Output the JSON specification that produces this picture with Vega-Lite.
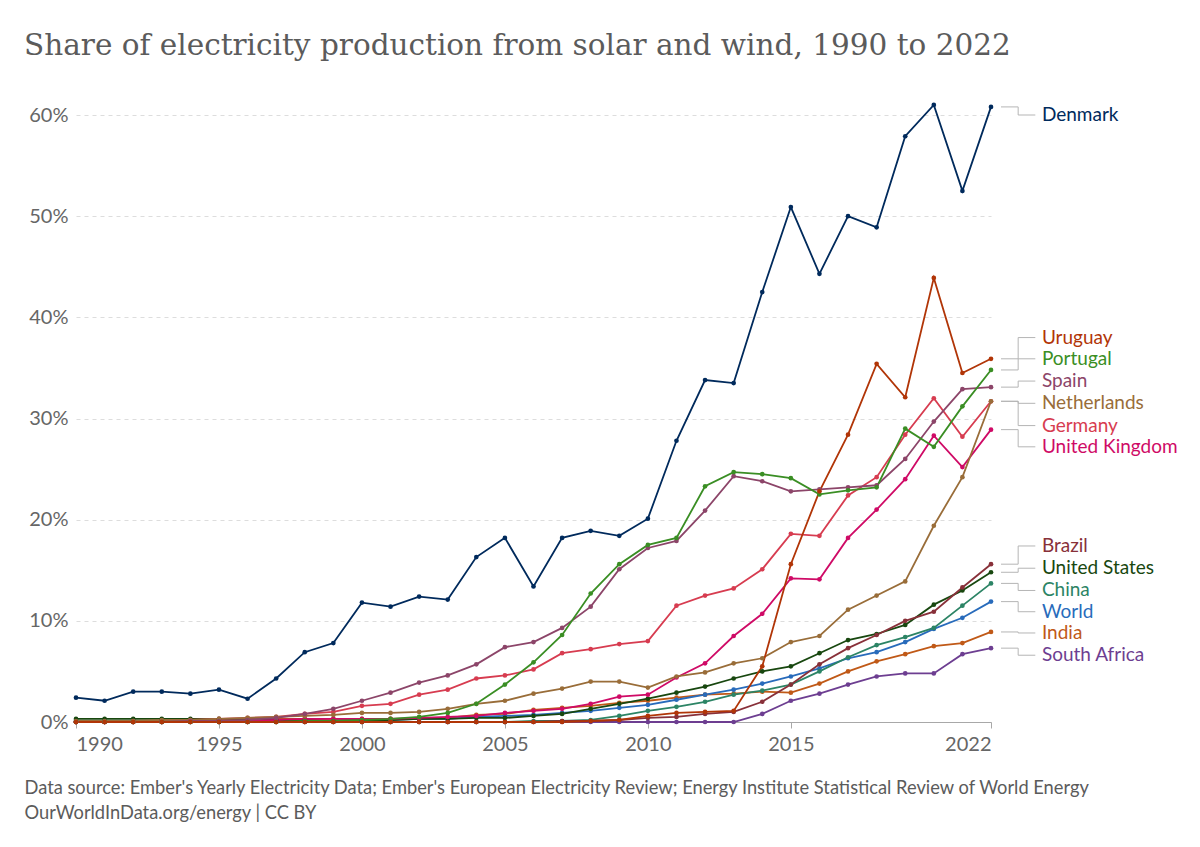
{
  "$schema": "https://vega.github.io/schema/vega-lite/v6.json",
  "width": 915,
  "height": 607,
  "padding": {"left": 24, "top": 30, "right": 10, "bottom": 10},
  "background": "white",
  "title": {
    "text": "Share of electricity production from solar and wind, 1990 to 2022",
    "anchor": "start",
    "frame": "group",
    "dx": -52,
    "font": "DejaVu Serif",
    "fontSize": 29.5,
    "fontWeight": "normal",
    "color": "#5b5b5b",
    "offset": 40
  },
  "datasets": {
    "series": [
      {"year": 1990, "Denmark": 2.4, "Uruguay": 0.0, "Portugal": 0.0, "Spain": 0.0, "Netherlands": 0.1, "Germany": 0.0, "United Kingdom": 0.0, "Brazil": 0.0, "United States": 0.3, "China": 0.0, "World": 0.1, "India": 0.0, "South Africa": 0.0},
      {"year": 1991, "Denmark": 2.1, "Uruguay": 0.0, "Portugal": 0.0, "Spain": 0.0, "Netherlands": 0.1, "Germany": 0.0, "United Kingdom": 0.0, "Brazil": 0.0, "United States": 0.3, "China": 0.0, "World": 0.1, "India": 0.0, "South Africa": 0.0},
      {"year": 1992, "Denmark": 3.0, "Uruguay": 0.0, "Portugal": 0.0, "Spain": 0.0, "Netherlands": 0.1, "Germany": 0.1, "United Kingdom": 0.0, "Brazil": 0.0, "United States": 0.3, "China": 0.0, "World": 0.1, "India": 0.0, "South Africa": 0.0},
      {"year": 1993, "Denmark": 3.0, "Uruguay": 0.0, "Portugal": 0.0, "Spain": 0.0, "Netherlands": 0.2, "Germany": 0.1, "United Kingdom": 0.1, "Brazil": 0.0, "United States": 0.3, "China": 0.0, "World": 0.1, "India": 0.0, "South Africa": 0.0},
      {"year": 1994, "Denmark": 2.8, "Uruguay": 0.0, "Portugal": 0.0, "Spain": 0.1, "Netherlands": 0.2, "Germany": 0.2, "United Kingdom": 0.1, "Brazil": 0.0, "United States": 0.3, "China": 0.0, "World": 0.1, "India": 0.1, "South Africa": 0.0},
      {"year": 1995, "Denmark": 3.2, "Uruguay": 0.0, "Portugal": 0.0, "Spain": 0.1, "Netherlands": 0.3, "Germany": 0.3, "United Kingdom": 0.1, "Brazil": 0.0, "United States": 0.3, "China": 0.0, "World": 0.1, "India": 0.2, "South Africa": 0.0},
      {"year": 1996, "Denmark": 2.3, "Uruguay": 0.0, "Portugal": 0.0, "Spain": 0.2, "Netherlands": 0.4, "Germany": 0.4, "United Kingdom": 0.1, "Brazil": 0.0, "United States": 0.3, "China": 0.0, "World": 0.1, "India": 0.2, "South Africa": 0.0},
      {"year": 1997, "Denmark": 4.3, "Uruguay": 0.0, "Portugal": 0.0, "Spain": 0.4, "Netherlands": 0.5, "Germany": 0.5, "United Kingdom": 0.2, "Brazil": 0.0, "United States": 0.2, "China": 0.0, "World": 0.1, "India": 0.3, "South Africa": 0.0},
      {"year": 1998, "Denmark": 6.9, "Uruguay": 0.0, "Portugal": 0.1, "Spain": 0.8, "Netherlands": 0.6, "Germany": 0.8, "United Kingdom": 0.3, "Brazil": 0.0, "United States": 0.2, "China": 0.0, "World": 0.1, "India": 0.3, "South Africa": 0.0},
      {"year": 1999, "Denmark": 7.8, "Uruguay": 0.0, "Portugal": 0.1, "Spain": 1.3, "Netherlands": 0.7, "Germany": 1.0, "United Kingdom": 0.3, "Brazil": 0.0, "United States": 0.1, "China": 0.0, "World": 0.1, "India": 0.3, "South Africa": 0.0},
      {"year": 2000, "Denmark": 11.8, "Uruguay": 0.0, "Portugal": 0.2, "Spain": 2.1, "Netherlands": 0.9, "Germany": 1.6, "United Kingdom": 0.3, "Brazil": 0.0, "United States": 0.2, "China": 0.0, "World": 0.2, "India": 0.3, "South Africa": 0.0},
      {"year": 2001, "Denmark": 11.4, "Uruguay": 0.0, "Portugal": 0.3, "Spain": 2.9, "Netherlands": 0.9, "Germany": 1.8, "United Kingdom": 0.3, "Brazil": 0.0, "United States": 0.2, "China": 0.0, "World": 0.2, "India": 0.3, "South Africa": 0.0},
      {"year": 2002, "Denmark": 12.4, "Uruguay": 0.0, "Portugal": 0.5, "Spain": 3.9, "Netherlands": 1.0, "Germany": 2.7, "United Kingdom": 0.4, "Brazil": 0.0, "United States": 0.3, "China": 0.0, "World": 0.3, "India": 0.3, "South Africa": 0.0},
      {"year": 2003, "Denmark": 12.1, "Uruguay": 0.0, "Portugal": 0.9, "Spain": 4.6, "Netherlands": 1.3, "Germany": 3.2, "United Kingdom": 0.5, "Brazil": 0.0, "United States": 0.3, "China": 0.0, "World": 0.3, "India": 0.4, "South Africa": 0.0},
      {"year": 2004, "Denmark": 16.3, "Uruguay": 0.0, "Portugal": 1.8, "Spain": 5.7, "Netherlands": 1.8, "Germany": 4.3, "United Kingdom": 0.6, "Brazil": 0.0, "United States": 0.4, "China": 0.0, "World": 0.5, "India": 0.7, "South Africa": 0.0},
      {"year": 2005, "Denmark": 18.2, "Uruguay": 0.0, "Portugal": 3.7, "Spain": 7.4, "Netherlands": 2.1, "Germany": 4.6, "United Kingdom": 0.9, "Brazil": 0.0, "United States": 0.4, "China": 0.0, "World": 0.6, "India": 0.8, "South Africa": 0.0},
      {"year": 2006, "Denmark": 13.4, "Uruguay": 0.0, "Portugal": 5.9, "Spain": 7.9, "Netherlands": 2.8, "Germany": 5.2, "United Kingdom": 1.1, "Brazil": 0.0, "United States": 0.6, "China": 0.1, "World": 0.7, "India": 1.2, "South Africa": 0.0},
      {"year": 2007, "Denmark": 18.2, "Uruguay": 0.0, "Portugal": 8.6, "Spain": 9.3, "Netherlands": 3.3, "Germany": 6.8, "United Kingdom": 1.3, "Brazil": 0.1, "United States": 0.8, "China": 0.1, "World": 0.9, "India": 1.4, "South Africa": 0.0},
      {"year": 2008, "Denmark": 18.9, "Uruguay": 0.1, "Portugal": 12.7, "Spain": 11.4, "Netherlands": 4.0, "Germany": 7.2, "United Kingdom": 1.8, "Brazil": 0.1, "United States": 1.3, "China": 0.2, "World": 1.1, "India": 1.6, "South Africa": 0.0},
      {"year": 2009, "Denmark": 18.4, "Uruguay": 0.2, "Portugal": 15.6, "Spain": 15.1, "Netherlands": 4.0, "Germany": 7.7, "United Kingdom": 2.5, "Brazil": 0.2, "United States": 1.8, "China": 0.6, "World": 1.4, "India": 1.9, "South Africa": 0.0},
      {"year": 2010, "Denmark": 20.1, "Uruguay": 0.6, "Portugal": 17.5, "Spain": 17.2, "Netherlands": 3.4, "Germany": 8.0, "United Kingdom": 2.7, "Brazil": 0.4, "United States": 2.3, "China": 1.1, "World": 1.7, "India": 2.1, "South Africa": 0.0},
      {"year": 2011, "Denmark": 27.8, "Uruguay": 0.9, "Portugal": 18.2, "Spain": 17.9, "Netherlands": 4.5, "Germany": 11.5, "United Kingdom": 4.4, "Brazil": 0.5, "United States": 2.9, "China": 1.5, "World": 2.2, "India": 2.4, "South Africa": 0.0},
      {"year": 2012, "Denmark": 33.8, "Uruguay": 1.0, "Portugal": 23.3, "Spain": 20.9, "Netherlands": 4.9, "Germany": 12.5, "United Kingdom": 5.8, "Brazil": 0.8, "United States": 3.5, "China": 2.0, "World": 2.7, "India": 2.7, "South Africa": 0.0},
      {"year": 2013, "Denmark": 33.5, "Uruguay": 1.1, "Portugal": 24.7, "Spain": 24.3, "Netherlands": 5.8, "Germany": 13.2, "United Kingdom": 8.5, "Brazil": 1.0, "United States": 4.3, "China": 2.7, "World": 3.2, "India": 2.8, "South Africa": 0.0},
      {"year": 2014, "Denmark": 42.5, "Uruguay": 5.5, "Portugal": 24.5, "Spain": 23.8, "Netherlands": 6.3, "Germany": 15.1, "United Kingdom": 10.7, "Brazil": 2.0, "United States": 5.0, "China": 3.1, "World": 3.8, "India": 3.0, "South Africa": 0.8},
      {"year": 2015, "Denmark": 50.9, "Uruguay": 15.6, "Portugal": 24.1, "Spain": 22.8, "Netherlands": 7.9, "Germany": 18.6, "United Kingdom": 14.2, "Brazil": 3.7, "United States": 5.5, "China": 3.7, "World": 4.5, "India": 2.9, "South Africa": 2.1},
      {"year": 2016, "Denmark": 44.3, "Uruguay": 22.8, "Portugal": 22.5, "Spain": 23.0, "Netherlands": 8.5, "Germany": 18.4, "United Kingdom": 14.1, "Brazil": 5.7, "United States": 6.8, "China": 5.0, "World": 5.3, "India": 3.8, "South Africa": 2.8},
      {"year": 2017, "Denmark": 50.0, "Uruguay": 28.4, "Portugal": 22.9, "Spain": 23.2, "Netherlands": 11.1, "Germany": 22.4, "United Kingdom": 18.2, "Brazil": 7.3, "United States": 8.1, "China": 6.4, "World": 6.3, "India": 5.0, "South Africa": 3.7},
      {"year": 2018, "Denmark": 48.9, "Uruguay": 35.4, "Portugal": 23.2, "Spain": 23.4, "Netherlands": 12.5, "Germany": 24.2, "United Kingdom": 21.0, "Brazil": 8.6, "United States": 8.7, "China": 7.6, "World": 6.9, "India": 6.0, "South Africa": 4.5},
      {"year": 2019, "Denmark": 57.9, "Uruguay": 32.1, "Portugal": 29.0, "Spain": 26.0, "Netherlands": 13.9, "Germany": 28.4, "United Kingdom": 24.0, "Brazil": 10.0, "United States": 9.6, "China": 8.4, "World": 7.9, "India": 6.7, "South Africa": 4.8},
      {"year": 2020, "Denmark": 61.0, "Uruguay": 43.9, "Portugal": 27.2, "Spain": 29.7, "Netherlands": 19.4, "Germany": 32.0, "United Kingdom": 28.3, "Brazil": 10.9, "United States": 11.6, "China": 9.3, "World": 9.2, "India": 7.5, "South Africa": 4.8},
      {"year": 2021, "Denmark": 52.5, "Uruguay": 34.5, "Portugal": 31.2, "Spain": 32.9, "Netherlands": 24.2, "Germany": 28.2, "United Kingdom": 25.2, "Brazil": 13.3, "United States": 13.0, "China": 11.5, "World": 10.3, "India": 7.8, "South Africa": 6.7},
      {"year": 2022, "Denmark": 60.8, "Uruguay": 35.9, "Portugal": 34.8, "Spain": 33.1, "Netherlands": 31.7, "Germany": 31.7, "United Kingdom": 28.9, "Brazil": 15.6, "United States": 14.8, "China": 13.7, "World": 11.9, "India": 8.9, "South Africa": 7.3}
    ],
    "labels": [
      {"country": "Denmark", "labelPos": 60.0},
      {"country": "Uruguay", "labelPos": 38.0},
      {"country": "Portugal", "labelPos": 35.9},
      {"country": "Spain", "labelPos": 33.7},
      {"country": "Netherlands", "labelPos": 31.5},
      {"country": "Germany", "labelPos": 29.3},
      {"country": "United Kingdom", "labelPos": 27.2},
      {"country": "Brazil", "labelPos": 17.4},
      {"country": "United States", "labelPos": 15.2},
      {"country": "China", "labelPos": 13.0},
      {"country": "World", "labelPos": 10.9},
      {"country": "India", "labelPos": 8.8},
      {"country": "South Africa", "labelPos": 6.6}
    ]
  },
  "layer": [
    {
      "data": {"name": "series"},
      "transform": [
        {"fold": ["South Africa", "India", "World", "China", "United States", "Brazil", "United Kingdom", "Germany", "Netherlands", "Spain", "Portugal", "Uruguay", "Denmark"], "as": ["country", "value"]}
      ],
      "mark": {"type": "line", "strokeWidth": 1.8, "point": {"filled": true, "size": 22}},
      "encoding": {
        "x": {
          "field": "year",
          "type": "quantitative",
          "scale": {"domain": [1990, 2022], "nice": false, "zero": false},
          "axis": {
            "values": [1990, 1995, 2000, 2005, 2010, 2015, 2022],
            "format": "d",
            "labelFlush": true,
            "grid": false,
            "domainColor": "#a8a8a8",
            "tickColor": "#a8a8a8",
            "tickSize": 6,
            "labelPadding": 6,
            "labelFont": "Lato",
            "labelFontSize": 20,
            "labelColor": "#666666",
            "title": ["Data source: Ember's Yearly Electricity Data; Ember's European Electricity Review; Energy Institute Statistical Review of World Energy", "OurWorldInData.org/energy | CC BY"],
            "titleAnchor": "start",
            "titleAlign": "left",
            "titleBaseline": "top",
            "titleX": -52,
            "titlePadding": 25,
            "titleFont": "Lato",
            "titleFontSize": 18.3,
            "titleFontWeight": "normal",
            "titleColor": "#5b5b5b",
            "titleLineHeight": 25
          }
        },
        "y": {
          "field": "value",
          "type": "quantitative",
          "scale": {"domain": [0, 60], "nice": false},
          "axis": {
            "values": [0, 10, 20, 30, 40, 50, 60],
            "labelExpr": "datum.value + '%'",
            "domain": false,
            "ticks": false,
            "title": null,
            "gridColor": "#dddddd",
            "gridDash": [4, 4],
            "labelFont": "Lato",
            "labelFontSize": 20,
            "labelColor": "#666666",
            "labelPadding": 8
          }
        },
        "color": {
          "field": "country",
          "type": "nominal",
          "legend": null,
          "scale": {
            "domain": ["Denmark", "Uruguay", "Portugal", "Spain", "Netherlands", "Germany", "United Kingdom", "Brazil", "United States", "China", "World", "India", "South Africa"],
            "range": ["#002a5c", "#b13507", "#3a8e24", "#8c4569", "#996d39", "#d73c50", "#cf0a66", "#883039", "#18470f", "#2c8465", "#286bbb", "#c05917", "#6d3e91"]
          }
        },
        "order": {"field": "year"}
      }
    },
    {
      "data": {"name": "series"},
      "transform": [
        {"filter": "datum.year == 2022"},
        {"fold": ["Denmark", "Uruguay", "Portugal", "Spain", "Netherlands", "Germany", "United Kingdom", "Brazil", "United States", "China", "World", "India", "South Africa"], "as": ["country", "value"]},
        {"lookup": "country", "from": {"data": {"name": "labels"}, "key": "country", "fields": ["labelPos"]}}
      ],
      "layer": [
        {
          "mark": {"type": "rule", "color": "#b5b5b5", "strokeWidth": 1},
          "encoding": {
            "x": {"datum": 2022.35, "type": "quantitative"},
            "x2": {"datum": 2022.95},
            "y": {"field": "value", "type": "quantitative"}
          }
        },
        {
          "mark": {"type": "rule", "color": "#b5b5b5", "strokeWidth": 1},
          "encoding": {
            "x": {"datum": 2022.95, "type": "quantitative"},
            "y": {"field": "value", "type": "quantitative"},
            "y2": {"field": "labelPos"}
          }
        },
        {
          "mark": {"type": "rule", "color": "#b5b5b5", "strokeWidth": 1},
          "encoding": {
            "x": {"datum": 2022.95, "type": "quantitative"},
            "x2": {"datum": 2023.55},
            "y": {"field": "labelPos", "type": "quantitative"}
          }
        }
      ]
    },
    {
      "data": {"name": "labels"},
      "mark": {"type": "text", "align": "left", "baseline": "middle", "font": "Lato", "fontSize": 19},
      "encoding": {
        "x": {"datum": 2023.78, "type": "quantitative"},
        "y": {"field": "labelPos", "type": "quantitative"},
        "text": {"field": "country"},
        "color": {"field": "country", "type": "nominal"}
      }
    }
  ],
  "config": {
    "view": {"stroke": null},
    "font": "Lato"
  }
}
